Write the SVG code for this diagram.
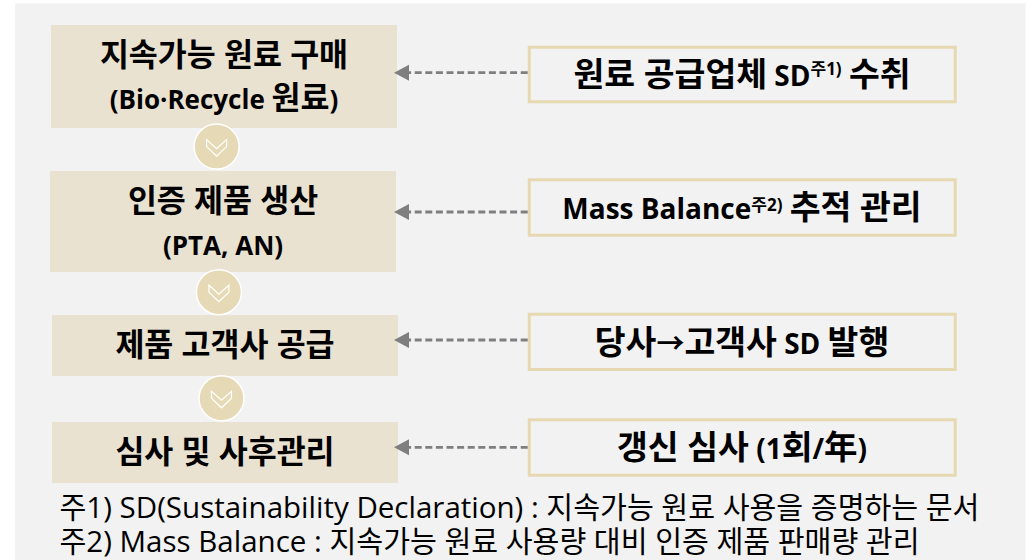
<svg xmlns="http://www.w3.org/2000/svg" width="1033" height="560" viewBox="0 0 1033 560">
<style>
.step{fill:#e9e2d1}
.side{fill:none;stroke:#e6d9b1;stroke-width:3}
.conn{fill:#e6dab6;stroke:#ffffff;stroke-width:1.5}
.chev{fill:none;stroke:#ffffff;stroke-width:1.2}
.lt{font-family:"Open Sans","Noto Sans CJK KR",sans-serif;font-weight:bold;font-size:26px;text-anchor:middle;fill:#000}
.lk{font-size:31.5px}
.rt{font-family:"Open Sans","Noto Sans CJK KR",sans-serif;font-weight:bold;font-size:28px;text-anchor:middle;fill:#000}
.rk{font-size:33.5px}
.sup{font-size:17px}
.fn{font-family:"Open Sans","Noto Sans CJK KR",sans-serif;font-size:29.5px;fill:#000}
.fk{font-size:29.2px}
.arrow{fill:none;stroke:#7f7f7f;stroke-width:2.8;stroke-dasharray:7 3.6}
.head{fill:#7f7f7f}
</style>
<defs>
<g id="chevron"><path class="chev" d="M-10,-7 L-10,0 L0,9.5 L10,0 L10,-7 L0,2 Z"/></g>
</defs>
<rect x="0" y="0" width="1033" height="560" fill="#ffffff"/>
<rect x="15" y="3.3" width="1010.7" height="556.7" fill="#f2f2f2"/>

<g id="step1">
<rect class="step" x="51" y="25" width="346" height="103"/>
<text class="lt lk" x="224" y="66">지속가능 원료 구매</text>
<text class="lt" x="224" y="109">(Bio·Recycle <tspan class="lk">원료</tspan>)</text>
</g>
<g id="step2">
<rect class="step" x="50" y="171" width="346" height="101"/>
<text class="lt lk" x="223" y="212">인증 제품 생산</text>
<text class="lt" x="223" y="255">(PTA, AN)</text>
</g>
<g id="step3">
<rect class="step" x="52" y="315" width="346" height="61"/>
<text class="lt lk" x="225" y="356">제품 고객사 공급</text>
</g>
<g id="step4">
<rect class="step" x="52" y="422" width="346" height="61"/>
<text class="lt lk" x="225" y="463">심사 및 사후관리</text>
</g>

<g id="flow1">
<circle class="conn" cx="216.6" cy="146.6" r="22.5"/>
<use href="#chevron" x="216.6" y="146.6"/>
</g>
<g id="flow2">
<circle class="conn" cx="218.9" cy="292.2" r="22.5"/>
<use href="#chevron" x="218.9" y="292.2"/>
</g>
<g id="flow3">
<circle class="conn" cx="221.5" cy="398.3" r="22.5"/>
<use href="#chevron" x="221.5" y="398.3"/>
</g>

<g id="input1">
<rect class="side" x="529.2" y="47.2" width="426" height="54.6"/>
<text class="rt" x="742" y="86"><tspan class="rk">원료 공급업체</tspan> SD<tspan class="sup" dy="-11">주1)</tspan><tspan dy="11"> </tspan><tspan class="rk">수취</tspan></text>
</g>
<g id="input2">
<rect class="side" x="529.2" y="179.8" width="426" height="55.4"/>
<text class="rt" x="742" y="219.3">Mass Balance<tspan class="sup" dy="-8.5">주2)</tspan><tspan dy="8.5"> </tspan><tspan class="rk">추적 관리</tspan></text>
</g>
<g id="input3">
<rect class="side" x="529.2" y="314.2" width="426" height="55.3"/>
<text class="rt" x="742" y="353.8"><tspan class="rk">당사</tspan>→<tspan class="rk">고객사</tspan> SD <tspan class="rk">발행</tspan></text>
</g>
<g id="input4">
<rect class="side" x="529.2" y="419.8" width="426" height="55.4"/>
<text class="rt" x="742" y="459"><tspan class="rk">갱신 심사</tspan> (1<tspan class="rk">회</tspan>/<tspan class="rk">年</tspan>)</text>
</g>

<g id="connectors">
<line class="arrow" x1="527.7" y1="72.7" x2="409" y2="72.7"/>
<path class="head" d="M409,64.7 L394,72.7 L409,80.7 Z"/>
<line class="arrow" x1="527.7" y1="212" x2="409" y2="212"/>
<path class="head" d="M409,204 L394,212 L409,220 Z"/>
<line class="arrow" x1="527.7" y1="340" x2="409" y2="340"/>
<path class="head" d="M409,332 L394,340 L409,348 Z"/>
<line class="arrow" x1="527.7" y1="447.3" x2="409" y2="447.3"/>
<path class="head" d="M409,439.3 L394,447.3 L409,455.3 Z"/>
</g>

<g id="notes">
<text class="fn" x="59.5" y="518"><tspan class="fk">주</tspan>1) SD(Sustainability Declaration) : <tspan class="fk">지속가능 원료 사용을 증명하는 문서</tspan></text>
<text class="fn" x="59.5" y="551.5"><tspan class="fk">주</tspan>2) Mass Balance : <tspan class="fk">지속가능 원료 사용량 대비 인증 제품 판매량 관리</tspan></text>
</g>
</svg>
